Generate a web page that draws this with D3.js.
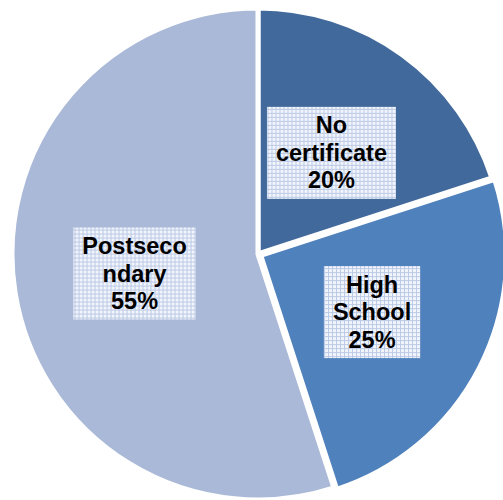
<!DOCTYPE html>
<head>
<meta charset="utf-8">
<style>
body { margin:0; background:#fff; }
.lbl { font-family:'Liberation Sans', Arial, sans-serif; font-weight:700; font-size:23.5px; fill:#000; }
</style>
</head>
<body>
<div id="chart1"></div>
<script src="https://d3js.org/d3.v7.min.js"></script>
<script>

var categories = ["No certificate", "High School", "Postsecondary"];
var values = [20, 25, 55];
var labelLines = [["No", "certificate", "20%"], ["High", "School", "25%"], ["Postseco", "ndary", "55%"]];
var colors = ["#41699b", "#4f81bd", "#aab9d7"];
var explode = [0, 3, 0];

var width = 503, height = 500,
    cx = 258, cy = 254, radius = 246;

var svg = d3.select('#chart1')
  .append('svg')
    .attr('width', width)
    .attr('height', height);

// dotted-grid fill for the label boxes
var defs = svg.append("defs");
var pat = defs.append("pattern")
    .attr("id", "grid")
    .attr("width", 4).attr("height", 4)
    .attr("patternUnits", "userSpaceOnUse");
pat.append("rect").attr("width", 4).attr("height", 4).attr("fill", "#f2f5fb");
pat.append("rect").attr("x", 0).attr("width", 1).attr("height", 4).attr("fill", "#bccae6");
pat.append("rect").attr("y", 0).attr("width", 4).attr("height", 1).attr("fill", "#bccae6");

var data = categories.map(function(c, i) {
  return { name: c, value: values[i], lines: labelLines[i], color: colors[i], explode: explode[i] };
});

var pie = d3.pie().sort(null).value(function(d) { return d.value; });
var arcs = pie(data);

var arc = d3.arc().innerRadius(0).outerRadius(radius);
var labelArc = d3.arc().innerRadius(125).outerRadius(125);

var g = svg.append("g")
    .attr("transform", "translate(" + cx + "," + cy + ")");

function shift(d) {
  var a = (d.startAngle + d.endAngle) / 2;
  return [Math.sin(a) * d.data.explode, -Math.cos(a) * d.data.explode];
}

g.selectAll(".slice")
  .data(arcs)
  .enter().append("path")
    .attr("class", "slice")
    .attr("d", arc)
    .attr("fill", function(d) { return d.data.color; })
    .attr("stroke", "#fff")
    .attr("stroke-width", 5)
    .attr("stroke-linejoin", "miter")
    .attr("transform", function(d) { var s = shift(d); return "translate(" + s[0] + "," + s[1] + ")"; });

var lineH = 27.5;

var labels = g.selectAll(".label")
  .data(arcs)
  .enter().append("g")
    .attr("class", "label")
    .attr("transform", function(d) {
      var c = labelArc.centroid(d), s = shift(d);
      return "translate(" + (c[0] + s[0]) + "," + (c[1] + s[1]) + ")";
    });

labels.each(function(d) {
  var el = d3.select(this);
  var box = el.append("rect");
  var txt = el.append("text")
      .attr("class", "lbl")
      .attr("text-anchor", "middle");
  d.data.lines.forEach(function(l, i) {
    txt.append("tspan")
      .attr("x", 0)
      .attr("y", 8 + (i - 1) * lineH)
      .text(l);
  });
  var bb = txt.node().getBBox();
  box.attr("x", bb.x - 9)
     .attr("width", bb.width + 18)
     .attr("y", -46)
     .attr("height", 92)
     .attr("fill", "url(#grid)");
});

</script>
</body>
